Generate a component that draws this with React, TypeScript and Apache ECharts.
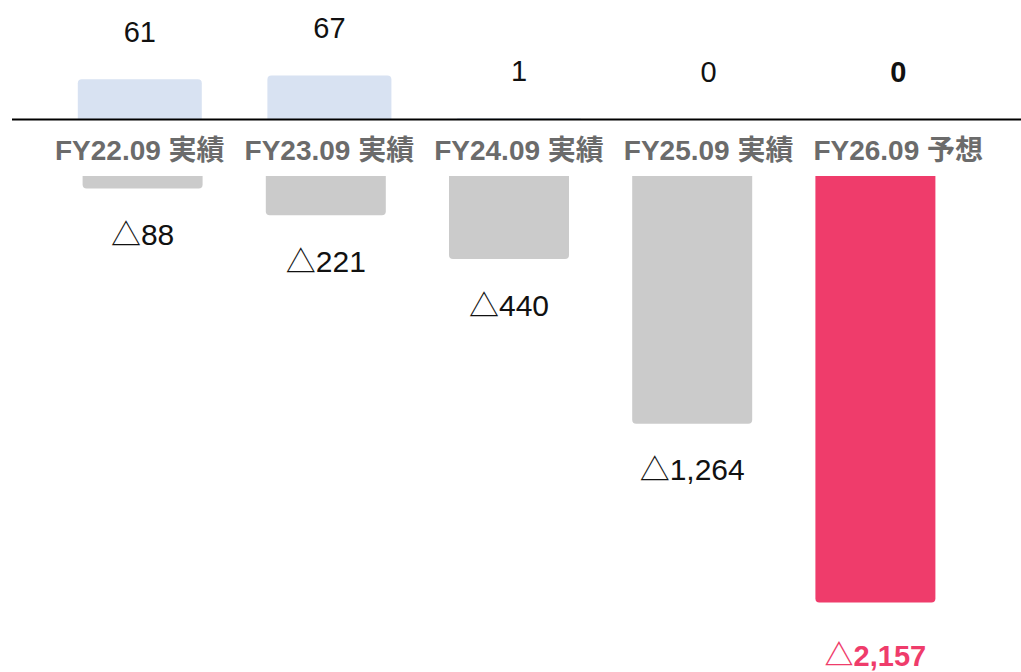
import React, { useEffect, useRef } from "react";
import * as echarts from "echarts";

// Fiscal-year categories shared by both panels
const categories = ["FY22.09 実績", "FY23.09 実績", "FY24.09 実績", "FY25.09 実績", "FY26.09 予想"];
// Upper panel: positive amounts
const gainValues = [61, 67, 1, 0, 0];
// Lower panel: losses (negative amounts, shown with △)
const lossValues = [-88, -221, -440, -1264, -2157];

const FONT = "'Liberation Sans', Arial, 'Noto Sans CJK JP', sans-serif";
const RED = "#ef3c6b";
const BLUE = "#d8e2f2";
const GREY = "#cbcbcb";

function fmtLoss(v: number): string {
  return "△" + Math.abs(v).toLocaleString("en-US");
}

export default function App() {
  const ref = useRef<HTMLDivElement>(null);

  useEffect(() => {
    document.body.style.margin = "0";
    const chart = echarts.init(ref.current!, null, { renderer: "svg" });
    const last = categories.length - 1;

    const gainData = gainValues.map((v, i) =>
      i === last
        ? { value: v, label: { fontWeight: "bold" } }
        : v
    );
    const lossData = lossValues.map((v, i) =>
      i === last
        ? {
            value: v,
            itemStyle: { color: RED },
            label: { color: RED, fontWeight: "bold", fontSize: 29, distance: 39 },
          }
        : v
    );

    chart.setOption({
      animation: false,
      backgroundColor: "#ffffff",
      grid: [
        { left: 45, width: 948, top: 54, bottom: 553 },
        { left: 51, width: 916, top: 176, bottom: 41 },
      ],
      xAxis: [
        {
          type: "category",
          gridIndex: 0,
          data: categories,
          axisLine: { show: false },
          axisTick: { show: false },
          axisLabel: {
            interval: 0,
            margin: 17,
            fontSize: 28,
            fontWeight: "bold",
            color: "#6b6b6b",
            fontFamily: FONT,
          },
        },
        {
          type: "category",
          gridIndex: 1,
          data: categories,
          show: false,
        },
      ],
      yAxis: [
        { type: "value", gridIndex: 0, min: 0, max: 100, show: false, splitLine: { show: false } },
        { type: "value", gridIndex: 1, min: -2300, max: -25, show: false, splitLine: { show: false } },
      ],
      graphic: [
        {
          type: "line",
          shape: { x1: 12, y1: 119.5, x2: 1021, y2: 119.5 },
          style: { stroke: "#000", lineWidth: 2 },
          z: 100,
        },
      ],
      series: [
        {
          type: "bar",
          xAxisIndex: 0,
          yAxisIndex: 0,
          data: gainData,
          barWidth: 124,
          itemStyle: { color: BLUE, borderRadius: [4, 4, 0, 0] },
          label: {
            show: true,
            position: "top",
            distance: 33,
            fontSize: 29,
            color: "#111",
            fontFamily: FONT,
          },
        },
        {
          type: "bar",
          xAxisIndex: 1,
          yAxisIndex: 1,
          data: lossData,
          barWidth: 120,
          clip: true,
          itemStyle: { color: GREY, borderRadius: [0, 0, 4, 4] },
          label: {
            show: true,
            position: "bottom",
            distance: 31,
            fontSize: 30,
            color: "#111",
            fontFamily: FONT,
            formatter: (p: any) => fmtLoss(p.value as number),
          },
        },
      ],
    });

    return () => chart.dispose();
  }, []);

  return (
    <div
      ref={ref}
      style={{ position: "fixed", left: 0, top: 0, width: 1021, height: 672 }}
    />
  );
}
